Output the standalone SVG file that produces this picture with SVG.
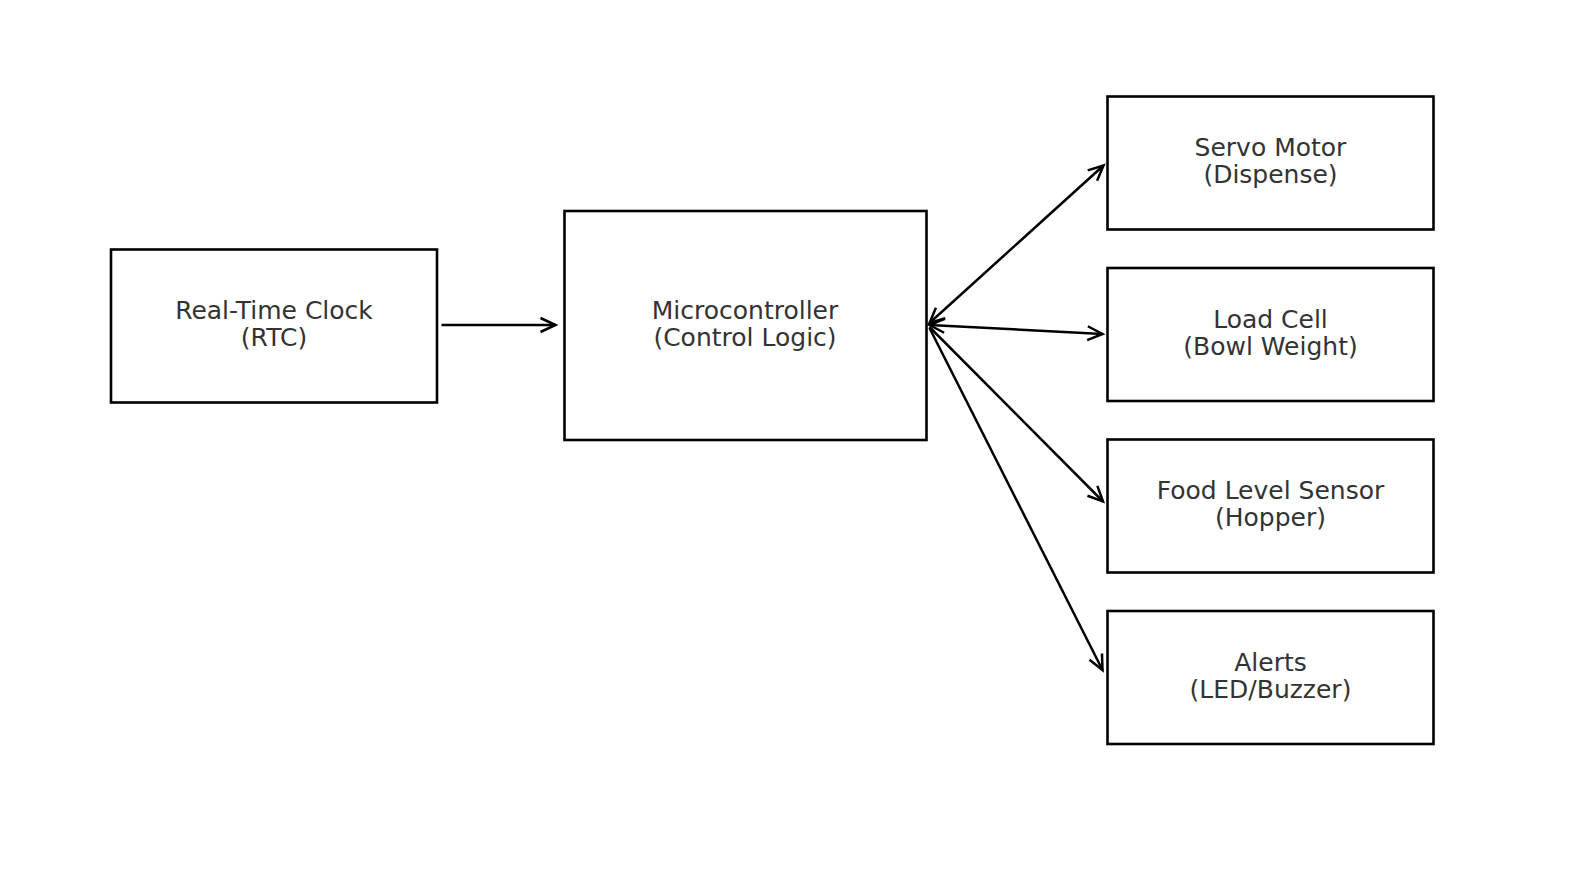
<svg xmlns="http://www.w3.org/2000/svg" width="1580" height="880" viewBox="0 0 1580 880">
  <style>
    .box { fill: #ffffff; stroke: #000000; stroke-width: 2.6; }
    .label { font-family: "DejaVu Sans", "Liberation Sans", sans-serif; font-size: 25px; fill: #333333; text-anchor: middle; }
    .link { fill: none; stroke: #000000; stroke-width: 2.5; }
  </style>
  <defs>
    <!-- open "->" arrowhead, reused at both ends of two-way links -->
    <marker id="head" markerUnits="userSpaceOnUse" markerWidth="24" markerHeight="24" viewBox="-20 -10 24 20" refX="0" refY="0" orient="auto-start-reverse" overflow="visible">
      <path d="M-15,-7 L0,0 L-15,7" fill="none" stroke="#000000" stroke-width="2.5" stroke-linejoin="miter"/>
    </marker>
  </defs>
  <rect width="1580" height="880" fill="#ffffff"/>

  <g id="rtc">
    <rect class="box" x="111" y="249.5" width="326" height="153"/>
    <text class="label" x="274" y="319">Real-Time Clock</text>
    <text class="label" x="274" y="346">(RTC)</text>
  </g>

  <g id="mcu">
    <rect class="box" x="564.5" y="211" width="362" height="229"/>
    <text class="label" x="745" y="319">Microcontroller</text>
    <text class="label" x="745" y="346">(Control Logic)</text>
  </g>

  <g id="servo">
    <rect class="box" x="1107.5" y="96.5" width="326" height="133"/>
    <text class="label" x="1270.5" y="156">Servo Motor</text>
    <text class="label" x="1270.5" y="183">(Dispense)</text>
  </g>

  <g id="loadcell">
    <rect class="box" x="1107.5" y="268" width="326" height="133"/>
    <text class="label" x="1270.5" y="327.5">Load Cell</text>
    <text class="label" x="1270.5" y="354.5">(Bowl Weight)</text>
  </g>

  <g id="foodlevel">
    <rect class="box" x="1107.5" y="439.5" width="326" height="133"/>
    <text class="label" x="1270.5" y="499">Food Level Sensor</text>
    <text class="label" x="1270.5" y="526">(Hopper)</text>
  </g>

  <g id="alerts">
    <rect class="box" x="1107.5" y="611" width="326" height="133"/>
    <text class="label" x="1270.5" y="670.5">Alerts</text>
    <text class="label" x="1270.5" y="697.5">(LED/Buzzer)</text>
  </g>

  <g id="connectors">
    <line class="link" x1="441.5" y1="325" x2="555.5" y2="325" marker-end="url(#head)"/>
    <line class="link" x1="929.5" y1="323" x2="1103.5" y2="165.5" marker-start="url(#head)" marker-end="url(#head)"/>
    <line class="link" x1="929.5" y1="325" x2="1102.5" y2="334" marker-start="url(#head)" marker-end="url(#head)"/>
    <line class="link" x1="929.5" y1="327" x2="1103" y2="501.5" marker-end="url(#head)"/>
    <line class="link" x1="929.5" y1="328" x2="1102.5" y2="670" marker-end="url(#head)"/>
  </g>
</svg>
